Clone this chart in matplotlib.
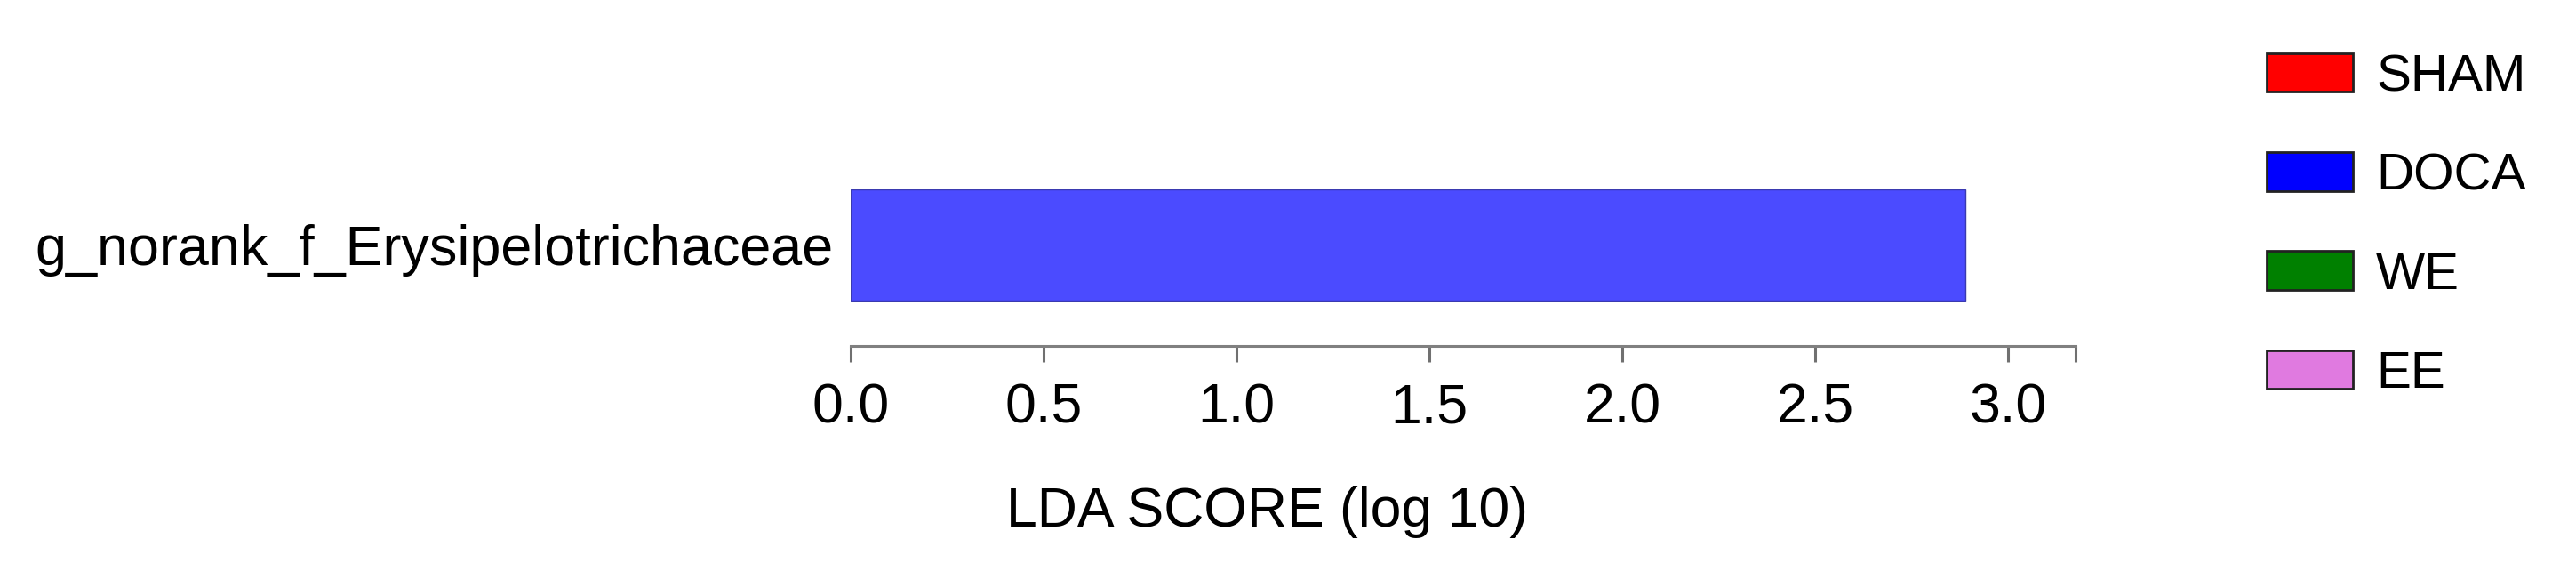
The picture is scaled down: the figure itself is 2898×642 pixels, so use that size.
import matplotlib
matplotlib.use("Agg")
import matplotlib.pyplot as plt
from matplotlib.patches import Patch

plt.rcParams['font.family'] = ['Liberation Sans', 'DejaVu Sans']

# data
features = ["g_norank_f_Erysipelotrichaceae"]
lda_scores = [2.89]
feature_groups = ["DOCA"]
groups = ["SHAM", "DOCA", "WE", "EE"]
group_colors = {"SHAM": "#FF0000", "DOCA": "#0000FF", "WE": "#008000", "EE": "#E07AE0"}
bar_colors = {"SHAM": "#FF4B4B", "DOCA": "#4B4BFF", "WE": "#4BA04B", "EE": "#E89AE8"}
xticks = [0.0, 0.5, 1.0, 1.5, 2.0, 2.5, 3.0]
xlabel = "LDA SCORE (log 10)"

W, H = 2898, 642
fig = plt.figure(figsize=(W / 100, H / 100), dpi=100)
ax_left, ax_right = 957, 2335
ax_top, ax_bot = 180, 389
ax = fig.add_axes([ax_left / W, (H - ax_bot) / H, (ax_right - ax_left) / W, (ax_bot - ax_top) / H])

ax.barh(features, lda_scores, height=0.6,
        color=[bar_colors[g] for g in feature_groups],
        edgecolor="#3A3AB0", linewidth=1.0)
ax.set_xlim(0, 3.175)
ax.set_ylim(-0.545, 0.458)

for s in ["top", "right", "left"]:
    ax.spines[s].set_visible(False)
ax.spines["bottom"].set_color("#808080")
ax.spines["bottom"].set_linewidth(2.2)

ax.set_xticks(xticks + [3.175])
ax.set_xticklabels([f"{t:.1f}" for t in xticks] + [""])
ax.tick_params(axis="x", length=13, width=2.2, color="#707070", labelsize=45, pad=16)
ax.tick_params(axis="y", length=0, labelsize=45.3, pad=14)

fig.text(1425 / W, (H - 592) / H, xlabel, ha="center", va="baseline", fontsize=45)

handles = [Patch(facecolor=group_colors[g], edgecolor="#222222", linewidth=2) for g in groups]
fig.legend(handles, groups, loc="upper left", bbox_to_anchor=(2550 / W, (H - 60) / H),
           frameon=False, fontsize=42, handlelength=1.66, handleheight=0.77,
           handletextpad=0.45, labelspacing=0.98, borderpad=0, borderaxespad=0)

fig.savefig("out.png", dpi=100, facecolor="white")
